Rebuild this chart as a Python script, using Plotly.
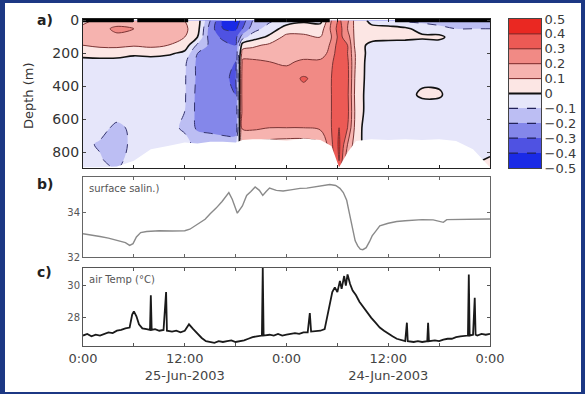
import plotly.graph_objects as go

W, H = 585, 394
FONT = "DejaVu Sans"

# ---------------- data ----------------
# panel a: velocity anomaly section (time in hours, depth in m)
times = [0, 2, 4, 6, 8, 10, 12, 13.5, 15, 16.5, 18, 18.8, 20, 22, 24, 26, 28,
         29.3, 30.2, 31.2, 32.2, 34, 36, 38, 40, 42, 44, 46, 48]
depths = [0, 50, 100, 150, 200, 250, 350, 450, 550, 650, 750, 850, 900]
# one profile (values at `depths`) per time
profiles = [
    [0.08, 0.12, 0.13, 0.10, 0.03, -0.03, -0.04, -0.04, -0.05, -0.06, -0.08, -0.09, -0.08],
    [0.12, 0.17, 0.20, 0.12, 0.04, -0.03, -0.04, -0.04, -0.05, -0.07, -0.11, -0.09, -0.08],
    [0.15, 0.22, 0.18, 0.12, 0.05, -0.04, -0.04, -0.05, -0.06, -0.12, -0.15, -0.13, -0.10],
    [0.14, 0.20, 0.16, 0.11, 0.02, -0.05, -0.06, -0.07, -0.06, -0.08, -0.07, -0.05, -0.03],
    [0.12, 0.16, 0.15, 0.12, 0.04, -0.06, -0.07, -0.08, -0.08, -0.09, -0.06, -0.05, -0.05],
    [0.13, 0.15, 0.14, 0.10, 0.02, -0.07, -0.08, -0.09, -0.09, -0.08, -0.05, -0.05, -0.05],
    [0.10, 0.12, 0.10, 0.06, -0.03, -0.08, -0.09, -0.09, -0.10, -0.11, -0.08, -0.08, -0.08],
    [0.05, 0.04, 0.00, -0.12, -0.20, -0.22, -0.22, -0.23, -0.23, -0.22, -0.12, -0.12, -0.12],
    [-0.20, -0.25, -0.25, -0.22, -0.22, -0.23, -0.24, -0.24, -0.25, -0.24, -0.12, -0.12, -0.12],
    [-0.42, -0.40, -0.32, -0.27, -0.27, -0.28, -0.29, -0.30, -0.28, -0.27, -0.12, -0.12, -0.12],
    [-0.48, -0.42, -0.33, -0.30, -0.30, -0.30, -0.31, -0.30, -0.29, -0.28, -0.12, -0.12, -0.12],
    [-0.35, -0.30, -0.15, 0.05, 0.15, 0.22, 0.25, 0.25, 0.24, 0.22, 0.10, 0.10, 0.10],
    [-0.20, -0.15, -0.05, 0.08, 0.15, 0.22, 0.24, 0.25, 0.25, 0.22, 0.08, 0.08, 0.08],
    [-0.12, -0.05, 0.02, 0.12, 0.14, 0.20, 0.24, 0.25, 0.24, 0.20, 0.06, 0.06, 0.06],
    [-0.05, 0.04, 0.13, 0.14, 0.12, 0.18, 0.26, 0.24, 0.25, 0.20, 0.05, 0.05, 0.05],
    [-0.02, 0.06, 0.12, 0.13, 0.15, 0.22, 0.31, 0.27, 0.25, 0.20, 0.05, 0.05, 0.05],
    [-0.03, 0.05, 0.10, 0.12, 0.15, 0.22, 0.27, 0.25, 0.25, 0.22, 0.08, 0.08, 0.08],
    [0.20, 0.22, 0.20, 0.22, 0.24, 0.28, 0.30, 0.30, 0.30, 0.30, 0.28, 0.25, 0.20],
    [0.32, 0.35, 0.33, 0.36, 0.38, 0.38, 0.38, 0.37, 0.38, 0.40, 0.42, 0.40, 0.35],
    [0.22, 0.20, 0.25, 0.30, 0.30, 0.32, 0.33, 0.32, 0.33, 0.30, 0.20, 0.12, 0.10],
    [0.05, 0.06, 0.05, 0.05, 0.08, 0.08, 0.06, 0.05, 0.06, 0.05, 0.03, 0.03, 0.03],
    [-0.02, 0.02, 0.04, -0.03, -0.05, -0.06, -0.05, -0.05, -0.06, -0.08, -0.05, -0.05, -0.05],
    [-0.06, 0.03, 0.03, -0.04, -0.06, -0.07, -0.06, -0.05, -0.04, -0.08, -0.05, -0.05, -0.05],
    [-0.12, 0.02, 0.03, -0.05, -0.07, -0.08, -0.05, -0.04, -0.05, -0.09, -0.05, -0.05, -0.05],
    [-0.13, -0.04, 0.02, -0.06, -0.08, -0.09, -0.03, 0.02, -0.07, -0.09, -0.05, -0.05, -0.05],
    [-0.13, -0.08, 0.03, -0.06, -0.09, -0.09, -0.04, 0.02, -0.08, -0.09, -0.06, -0.06, -0.06],
    [-0.14, -0.10, -0.06, -0.07, -0.09, -0.09, -0.09, -0.08, -0.08, -0.09, -0.07, -0.07, -0.07],
    [-0.14, -0.10, -0.08, -0.06, -0.09, -0.09, -0.09, -0.09, -0.09, -0.09, -0.08, -0.02, 0.02],
    [-0.12, -0.10, -0.08, -0.07, -0.08, -0.09, -0.08, -0.08, -0.08, -0.09, -0.06, 0.02, 0.03],
]
# deepest depth with data at each time
data_bottom = [890, 890, 885, 850, 780, 760, 740, 745, 735, 735, 740, 725, 720, 720,
               730, 715, 725, 760, 890, 800, 730, 720, 725, 720, 725, 720, 730, 780, 890]
# night periods (hours) shown as black bars on top
night_start = [0, 6.4, 20.2, 36.8]
night_end = [5.9, 12.4, 29.1, 48]

# colour levels
levels = [-0.4, -0.3, -0.2, -0.1, 0.0, 0.1, 0.2, 0.3, 0.4]
band_centers = [-0.45, -0.35, -0.25, -0.15, -0.05, 0.05, 0.15, 0.25, 0.35, 0.45]
band_colors = ["#1a2ae6", "#4f52e2", "#8487ea", "#bcbef3", "#e6e6fa",
               "#fce6e4", "#f6b3af", "#f18a85", "#ec5a55", "#ea2822"]
cbar_ticks = [0.5, 0.4, 0.3, 0.2, 0.1, 0, -0.1, -0.2, -0.3, -0.4, -0.5]
cbar_labels = ["0.5", "0.4", "0.3", "0.2", "0.1", "0", "\u22120.1", "\u22120.2",
               "\u22120.3", "\u22120.4", "\u22120.5"]

# panel b: surface salinity
sal_t = [0, 1, 2, 3, 4, 5, 5.5, 5.9, 6.3, 6.8, 7.5, 9, 10.5, 12, 12.6, 13.2, 13.8, 14.4, 15, 15.7,
         16.4, 17.2, 17.6, 18.2, 18.8, 19.3, 19.8, 20.3, 20.8, 21.2, 21.6, 22, 22.8, 23.6, 24.5,
         25.6, 26.4, 27.1, 28, 29.1, 29.8, 30.3, 30.7, 31.1, 31.4, 31.7, 32.1, 32.4, 32.7, 33.0,
         33.4, 33.8, 34.1, 34.6, 35, 36, 37, 38, 39, 40, 41.3, 42, 42.5, 42.9, 44, 45, 46, 47, 48]
sal_v = [33.05, 33.0, 32.92, 32.85, 32.75, 32.65, 32.52, 32.6, 32.9, 33.1, 33.15, 33.18, 33.17,
         33.18, 33.25, 33.4, 33.52, 33.7, 33.95, 34.2, 34.5, 34.9, 34.6, 33.97, 34.3, 34.77, 34.95,
         35.15, 35.0, 34.77, 34.95, 35.1, 35.0, 34.97, 35.02, 35.09, 35.1, 35.15, 35.2, 35.26,
         35.22, 35.09, 34.9, 34.55, 34.0, 33.5, 32.73, 32.5, 32.35, 32.33, 32.42, 32.7, 32.95,
         33.2, 33.4, 33.52, 33.6, 33.63, 33.67, 33.68, 33.67, 33.62, 33.56, 33.68, 33.69, 33.7,
         33.7, 33.71, 33.71]

# panel c: air temperature (hour, degC)
air_temp = [
    (0, 26.9), (0.5, 27.0), (1, 26.85), (1.5, 26.95), (2, 26.9), (2.5, 27.0), (3, 27.1),
    (3.5, 27.05), (4, 27.2), (4.5, 27.25), (5, 27.35), (5.5, 27.4), (5.8, 28.2), (6.0, 28.4),
    (6.3, 28.1), (6.6, 27.6), (7.0, 27.35), (7.5, 27.3), (7.9, 27.25), (8.0, 29.4), (8.1, 27.25),
    (8.5, 27.3), (9, 27.2), (9.5, 27.25), (9.8, 29.6), (9.9, 27.2), (10.5, 27.15), (11, 27.2),
    (11.5, 27.1), (12, 27.2), (12.5, 27.6), (13, 27.3), (13.5, 27.0), (14, 26.75), (14.5, 26.55),
    (15, 26.5), (15.5, 26.45), (16, 26.55), (16.5, 26.5), (17, 26.55), (17.5, 26.6), (18, 26.5),
    (18.5, 26.55), (19, 26.6), (19.5, 26.7), (20, 26.8), (20.5, 26.85), (21.1, 26.9),
    (21.2, 31.1), (21.3, 26.9), (22, 26.95), (22.5, 26.9), (23, 27.0), (23.5, 26.9), (24, 26.95),
    (24.5, 27.0), (25, 27.05), (25.5, 27.0), (26, 27.1), (26.5, 27.1), (26.75, 28.3),
    (26.9, 27.15), (27.5, 27.2), (28, 27.2), (28.5, 27.3), (28.8, 28.0), (29.1, 28.8),
    (29.4, 29.6), (29.7, 29.9), (30.0, 29.6), (30.3, 30.3), (30.5, 29.8), (30.8, 30.6),
    (31.0, 30.0), (31.2, 30.7), (31.5, 30.1), (31.8, 29.7), (32.2, 29.4), (32.6, 29.0),
    (33, 28.7), (33.5, 28.3), (34, 28.0), (34.5, 27.7), (35, 27.4), (35.5, 27.2), (36, 27.0),
    (36.5, 26.85), (37, 26.7), (37.5, 26.6), (38, 26.55), (38.2, 27.7), (38.3, 26.55),
    (39, 26.5), (39.5, 26.55), (40, 26.5), (40.6, 26.55), (40.7, 27.7), (40.8, 26.55),
    (41.5, 26.6), (42, 26.55), (42.5, 26.65), (43, 26.7), (43.5, 26.7), (44, 26.8),
    (44.5, 26.85), (45, 26.9), (45.4, 26.9), (45.5, 30.7), (45.6, 26.9), (46, 26.95),
    (46.2, 29.25), (46.3, 26.95), (46.5, 26.9), (47, 27.0), (47.5, 26.95), (48, 27.0),
]
air_t = [p[0] for p in air_temp]
air_v = [p[1] for p in air_temp]

x_ticks = [0, 6, 12, 18, 24, 30, 36, 42, 48]
x_ticktext = ["0:00", "", "12:00<br>25-Jun-2003", "", "0:00", "",
              "12:00<br>24-Jun-2003", "", "0:00"]

# ---------------- layout helpers ----------------
def px_x(p):
    return p / W


def px_y(p):
    return 1 - p / H


XDOM = [px_x(83), px_x(490)]
DOM_A = [px_y(168), px_y(19)]
DOM_B = [px_y(257), px_y(177)]
DOM_C = [px_y(346), px_y(268)]
DOM_CB_X = [px_x(509), px_x(541)]

n = len(band_colors)
fill_scale = [[i / (n - 1), c] for i, c in enumerate(band_colors)]
step_scale = []
for i, c in enumerate(band_colors):
    step_scale.append([i / n, c])
    step_scale.append([(i + 1) / n, c])

fig = go.Figure()

# filled contours
fig.add_trace(go.Contour(
    x=times, y=depths, z=profiles, transpose=True,
    contours=dict(start=levels[0], end=levels[-1], size=0.1, coloring="fill", showlines=False),
    colorscale=fill_scale, showscale=False, line=dict(width=0),
    xaxis="x", yaxis="y", hoverinfo="skip"))
# positive contour lines
fig.add_trace(go.Contour(
    x=times, y=depths, z=profiles, transpose=True,
    contours=dict(start=0.1, end=0.4, size=0.1, coloring="none"),
    line=dict(color="#7a3434", width=1), showscale=False,
    xaxis="x", yaxis="y", hoverinfo="skip"))
# zero contour
fig.add_trace(go.Contour(
    x=times, y=depths, z=profiles, transpose=True,
    contours=dict(start=0, end=0, size=0.1, coloring="none"),
    line=dict(color="#111111", width=1.6), showscale=False,
    xaxis="x", yaxis="y", hoverinfo="skip"))
# negative contour lines (dashed)
fig.add_trace(go.Contour(
    x=times, y=depths, z=profiles, transpose=True,
    contours=dict(start=-0.4, end=-0.1, size=0.1, coloring="none"),
    line=dict(color="#34346e", width=1, dash="dash"), showscale=False,
    xaxis="x", yaxis="y", hoverinfo="skip"))

# no-data area below the deepest measurement
fig.add_trace(go.Scatter(
    x=times + [times[-1], times[0]], y=data_bottom + [1000, 1000],
    fill="toself", fillcolor="white", mode="none", xaxis="x", yaxis="y",
    hoverinfo="skip", showlegend=False))

# night bars
nx, ny = [], []
for s, e in zip(night_start, night_end):
    nx += [s, e, None]
    ny += [-5, -5, None]
fig.add_trace(go.Scatter(x=nx, y=ny, mode="lines", line=dict(color="black", width=5),
                         cliponaxis=False, xaxis="x", yaxis="y", showlegend=False,
                         hoverinfo="skip"))

# salinity
fig.add_trace(go.Scatter(x=sal_t, y=sal_v, mode="lines",
                         line=dict(color="#8a8a8a", width=1.4),
                         xaxis="x2", yaxis="y2", showlegend=False))
# air temperature
fig.add_trace(go.Scatter(x=air_t, y=air_v, mode="lines",
                         line=dict(color="#1a1a1a", width=1.8),
                         xaxis="x3", yaxis="y3", showlegend=False))

# manual colour bar
fig.add_trace(go.Heatmap(x=[0], y=band_centers, z=[[v] for v in band_centers],
                         colorscale=step_scale, zmin=-0.5, zmax=0.5, showscale=False,
                         xaxis="x4", yaxis="y4", hoverinfo="skip"))
for lv_list, col, wd, dash in [
    ([l for l in levels if l > 0], "#7a2a2a", 1, "solid"),
    ([l for l in levels if l == 0], "#111111", 2, "solid"),
    ([l for l in levels if l < 0], "#22225a", 1.2, "dash"),
]:
    lx, ly = [], []
    for l in lv_list:
        lx += [-0.5, 0.5, None]
        ly += [l, l, None]
    fig.add_trace(go.Scatter(x=lx, y=ly, mode="lines", line=dict(color=col, width=wd, dash=dash),
                             xaxis="x4", yaxis="y4", showlegend=False, hoverinfo="skip"))

tick_font = dict(family=FONT, size=13, color="#444444")
small_font = dict(family=FONT, size=10, color="#555555")

common_x = dict(range=[0, 48], tickvals=x_ticks, ticks="inside", ticklen=3,
                mirror="ticks", showline=True, showgrid=False, zeroline=False,
                domain=XDOM, automargin=False)


def note(text, xp, yp, size, color, xanchor="center", angle=0):
    return dict(text=text, x=px_x(xp), y=px_y(yp), xref="paper", yref="paper",
                xanchor=xanchor, yanchor="middle", showarrow=False, textangle=angle,
                font=dict(family=FONT, size=size, color=color))


fig.update_layout(
    width=W, height=H, margin=dict(l=0, r=0, t=0, b=0, pad=0), autosize=False,
    paper_bgcolor="#1c3884", plot_bgcolor="white",
    font=dict(family=FONT, color="#333333"),
    showlegend=False,
    xaxis=dict(**common_x, anchor="y", showticklabels=False, linecolor="#222222", linewidth=1.2,
               tickcolor="#222222"),
    yaxis=dict(domain=DOM_A, anchor="x", range=[894, -9], tickvals=[0, 200, 400, 600, 800],
               ticks="inside", ticklen=3, mirror="ticks", showline=True, linecolor="#222222",
               linewidth=1.2, showgrid=False, zeroline=False, automargin=False,
               tickfont=dict(family=FONT, size=14, color="#333333")),
    xaxis2=dict(**common_x, anchor="y2", showticklabels=False, linecolor="#666666",
                tickcolor="#666666"),
    yaxis2=dict(domain=DOM_B, anchor="x2", range=[32, 35.6], tickvals=[32, 34],
                ticks="inside", ticklen=3, mirror="ticks", showline=True, linecolor="#666666",
                tickcolor="#666666", showgrid=False, zeroline=False, tickfont=small_font,
                automargin=False),
    xaxis3=dict(**common_x, anchor="y3", ticktext=x_ticktext, linecolor="#555555",
                tickcolor="#555555", tickfont=tick_font),
    yaxis3=dict(domain=DOM_C, anchor="x3", range=[26.25, 31.1], tickvals=[28, 30],
                ticks="inside", ticklen=3, mirror="ticks", showline=True, linecolor="#555555",
                tickcolor="#555555", showgrid=False, zeroline=False, tickfont=small_font,
                automargin=False),
    xaxis4=dict(domain=DOM_CB_X, anchor="y4", range=[-0.5, 0.5], showticklabels=False,
                ticks="", showline=True, mirror=True, linecolor="#444444", showgrid=False,
                zeroline=False, automargin=False),
    yaxis4=dict(domain=DOM_A, anchor="x4", range=[-0.5, 0.5], side="right",
                tickvals=cbar_ticks, ticktext=cbar_labels, ticks="", showline=True,
                mirror=True, linecolor="#444444", showgrid=False, zeroline=False,
                automargin=False, tickfont=dict(family=FONT, size=13, color="#3a3a3a")),
    shapes=[dict(type="rect", xref="paper", yref="paper", x0=px_x(5), x1=px_x(581),
                 y0=px_y(392), y1=px_y(3), fillcolor="white", line=dict(width=0),
                 layer="below")],
    annotations=[
        note("<b>a)</b>", 45, 20, 14, "#222222"),
        note("<b>b)</b>", 45, 184, 14, "#222222"),
        note("<b>c)</b>", 44, 272, 14, "#222222"),
        note("Depth (m)", 28, 96, 13, "#333333", angle=-90),
        note("surface salin.)", 87, 188, 10, "#555555", xanchor="left"),
        note("air Temp (\u00b0C)", 87, 279, 10, "#555555", xanchor="left"),
    ],
)

fig.write_html("out.html", config={"displayModeBar": False},
               post_script="document.body.style.margin='0';"
                           "document.body.style.overflow='hidden';")
